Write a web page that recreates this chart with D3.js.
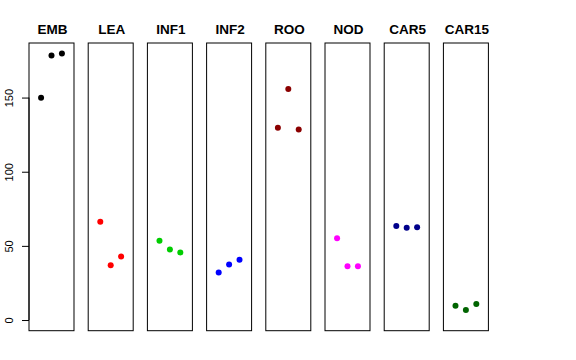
<!DOCTYPE html>
<html>
<head>
<meta charset="utf-8">
<script src="https://cdn.jsdelivr.net/npm/d3@7"></script>
<style>
  body { margin: 0; background: #fff; }
  svg { display: block; }
  .title { font-family: "Liberation Sans", Arial, sans-serif; font-weight: bold; font-size: 13.5px; }
  .axis text { font-family: "Liberation Sans", Arial, sans-serif; font-size: 11px; }
</style>
</head>
<body>
<div id="chart"></div>
<script>
// tissue groups, one panel each
const groups = ["EMB", "LEA", "INF1", "INF2", "ROO", "NOD", "CAR5", "CAR15"];
const groupColors = ["#000000", "#ff0000", "#00cd00", "#0000ff", "#8b0000", "#ff00ff", "#00008b", "#006400"];

// three replicates per group
const rep1 = [149.9, 66.3, 53.5, 32.1, 129.7, 55.1, 63.4, 9.6];
const rep2 = [178.4, 36.9, 47.6, 37.5, 155.7, 36.2, 62.2, 6.7];
const rep3 = [179.8, 42.9, 45.6, 40.7, 128.5, 36.2, 62.5, 10.8];
const replicates = [rep1, rep2, rep3];

const yTicks = [0, 50, 100, 150];

const width = 576, height = 360;
const margin = {top: 43, bottom: 29.3, left: 29, right: 87.6};

const svg = d3.select("#chart").append("svg")
  .attr("width", width)
  .attr("height", height);

const panelScale = d3.scaleBand()
  .domain(groups)
  .range([margin.left, width - margin.right])
  .paddingInner(0.24)
  .paddingOuter(0);

const xscale = d3.scaleLinear()
  .domain([-0.16, 4.16])
  .range([0, panelScale.bandwidth()]);

const yscale = d3.scaleLinear()
  .domain([-7.2, 186.8])
  .range([height - margin.bottom, margin.top]);

// y axis (R style: line only spans the ticks)
const yaxis = d3.axisLeft(yscale).tickValues(yTicks).tickSize(7).tickFormat(d3.format("d"));
const ax = svg.append("g").attr("class", "axis")
  .attr("transform", "translate(" + margin.left + ",0)")
  .call(yaxis);
ax.select(".domain").remove();
ax.selectAll(".tick line").attr("stroke", "#000");
ax.selectAll(".tick text")
  .attr("x", null).attr("dy", null)
  .attr("fill", "#000")
  .attr("text-anchor", "middle")
  .attr("transform", "translate(-16.5,0) rotate(-90)");
ax.append("line")
  .attr("x1", 0).attr("x2", 0)
  .attr("y1", yscale(yTicks[0])).attr("y2", yscale(yTicks[yTicks.length - 1]))
  .attr("stroke", "#000");

const panels = svg.selectAll("g.panel")
  .data(groups)
  .join("g").classed("panel", true)
  .attr("transform", d => "translate(" + panelScale(d) + ",0)");

panels.append("rect")
  .attr("x", 0)
  .attr("y", margin.top)
  .attr("width", panelScale.bandwidth())
  .attr("height", height - margin.bottom - margin.top)
  .attr("fill", "none")
  .attr("stroke", "#000");

panels.append("text").classed("title", true)
  .attr("x", panelScale.bandwidth() / 2 + 1)
  .attr("y", 34)
  .attr("text-anchor", "middle")
  .text(d => d);

panels.each(function (g, gi) {
  d3.select(this).selectAll("circle")
    .data(replicates.map((rep, ri) => ({x: ri + 1, y: rep[gi]})))
    .join("circle")
    .attr("cx", d => xscale(d.x))
    .attr("cy", d => yscale(d.y))
    .attr("r", 3)
    .attr("fill", groupColors[gi]);
});
</script>
</body>
</html>
